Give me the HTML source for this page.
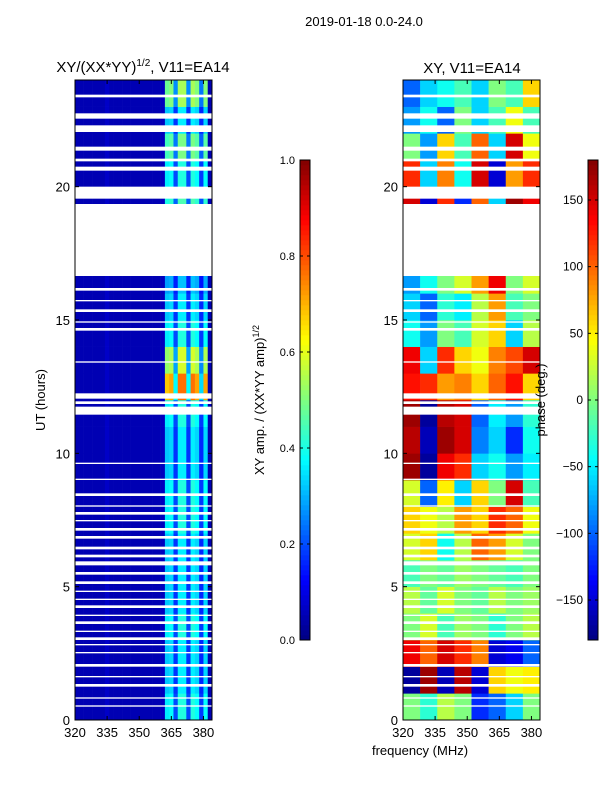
<!DOCTYPE html>
<html><head><meta charset="utf-8"><style>
body{margin:0;background:#fff;font-family:"Liberation Sans",sans-serif}
svg text{font-family:"Liberation Sans",sans-serif;fill:#000}
</style></head><body>
<svg id="chart" width="600" height="800" xmlns="http://www.w3.org/2000/svg">
<text x="364" y="26" font-size="13" text-anchor="middle">2019-01-18 0.0-24.0</text>
<text x="143" y="72" font-size="15" text-anchor="middle">XY/(XX*YY)<tspan font-size="10" dy="-6">1/2</tspan><tspan dy="6">, V11=EA14</tspan></text>
<text x="472" y="73" font-size="15" text-anchor="middle">XY, V11=EA14</text>
<g id="left"></g>
<g id="right"></g>
<g id="cbars"></g>
<text x="420" y="755" font-size="13" text-anchor="middle">frequency (MHz)</text>
<text transform="translate(45,400) rotate(-90)" font-size="13" text-anchor="middle">UT (hours)</text>
<text transform="translate(264,400) rotate(-90)" font-size="13" text-anchor="middle">XY amp. / (XX*YY amp)<tspan font-size="9" dy="-5">1/2</tspan></text>
<text transform="translate(545,400) rotate(-90)" font-size="13" text-anchor="middle">phase (deg.)</text>
</svg>
<script>
const freqTicks=[320,335,350,365,380];
const utTicks=[0,5,10,15,20];
const ampTicks=[0.0,0.2,0.4,0.6,0.8,1.0];
const phaseTicks=[-150,-100,-50,0,50,100,150];
const chanFreqs=[320,322,324,326,328,330,332,334,336,338,340,342,344,346,348,350,352,354,356,358,360,362,364,366,368,370,372,374,376,378,380,382];
const chanAmp=[0.05,0.05,0.05,0.05,0.05,0.05,0.05,0.07,0.05,0.05,0.05,0.05,0.05,0.05,0.05,0.05,0.05,0.05,0.05,0.05,0.06,0.4,0.42,0.22,0.45,0.45,0.22,0.45,0.42,0.2,0.42,0.05];
const hourAmpScale=[0.9,0.8,0.8,0.9,0.8,0.8,0.8,0.9,0.9,0.8,0.8,0.9,1.7,1.3,0.9,0.8,0.7,0,0,1,0.9,1.1,0.8,1.2];
const phaseCols=[320,328,336,344,352,360,368,376];
const phaseGrid=[
[0,-30,20,0,-120,-100,-60,0],
[-170,170,-160,160,-150,60,40,50],
[140,100,150,120,90,-150,-140,-100],
[0,30,-20,10,0,-30,0,20],
[20,-10,30,0,-10,20,0,10],
[-20,0,-10,10,0,-10,-20,0],
[30,60,-40,20,100,80,30,0],
[60,40,20,80,60,120,100,40],
[30,-100,50,-60,60,0,150,-20],
[170,-170,140,120,-60,-40,-80,-50],
[160,-160,170,150,-90,-60,-120,-40],
[170,-170,160,150,-100,-50,-80,-30],
[130,120,80,90,60,100,130,60],
[140,-60,120,60,40,90,110,150],
[-40,-80,0,-20,30,60,-60,20],
[-60,-100,-30,-50,20,80,-20,0],
[-80,-40,0,30,80,140,0,30],
[0,0,0,0,0,0,0,0],
[0,0,0,0,0,0,0,0],
[150,-150,120,-120,100,-60,170,140],
[120,-60,90,-40,150,-150,80,120],
[0,-80,60,-20,100,-60,150,40],
[-80,-40,-100,0,-60,-20,40,-20],
[-100,-60,-40,-20,-60,0,-20,60]];
const gapStart=[23.35,22.55,22.05,21.35,20.95,20.6,19.55,16.65,16.1,15.7,15.3,14.9,14.6,13.4,12.05,11.85,11.45,9.6,9.0,8.4,8.0,7.7,7.45,7.1,6.8,6.4,6.1,5.8,5.45,5.1,4.8,4.5,4.2,3.9,3.6,3.3,3.0,2.8,2.5,2.0,1.6,1.25,0.8,0.5];
const gapEnd=[23.45,22.75,22.3,21.5,21.05,20.75,20.0,19.35,16.2,15.75,15.4,14.95,14.7,13.45,12.25,11.95,11.75,9.65,9.05,8.5,8.05,7.8,7.5,7.2,6.9,6.5,6.2,5.95,5.55,5.2,4.85,4.55,4.3,3.95,3.7,3.35,3.1,2.85,2.55,2.1,1.65,1.35,0.85,0.55];

const NS='http://www.w3.org/2000/svg';
function jet(t){t=Math.max(0,Math.min(1,t));const c=v=>Math.round(255*Math.max(0,Math.min(1,v)));
return `rgb(${c(1.5-Math.abs(4*t-3))},${c(1.5-Math.abs(4*t-2))},${c(1.5-Math.abs(4*t-1))})`;}
function mk(tag,attrs,parent){const e=document.createElementNS(NS,tag);for(const k in attrs)e.setAttribute(k,attrs[k]);parent.appendChild(e);return e;}
const yS=h=>720-h*(640/24);
function panel(gid,x0){
  const g=document.getElementById(gid);
  const xS=f=>x0+(f-320)*(137/64);
  return {g,xS};
}
(function(){
  const {g,xS}=panel('left',75);
  for(let h=0;h<24;h++){for(let i=0;i<chanFreqs.length;i++){
    const v=chanAmp[i]<0.1?chanAmp[i]:chanAmp[i]*hourAmpScale[h];
    const r=mk('rect',{x:xS(chanFreqs[i]),y:yS(h+1),width:xS(chanFreqs[i]+2)-xS(chanFreqs[i])+0.3,height:yS(h)-yS(h+1)+0.3,fill:jet(v)},g);
    
    
  }}
  drawFrame(g,xS,75);
})();
(function(){
  const {g,xS}=panel('right',403);
  for(let h=0;h<24;h++){for(let i=0;i<phaseCols.length;i++){
    const r=mk('rect',{x:xS(phaseCols[i]),y:yS(h+1),width:xS(phaseCols[i]+8)-xS(phaseCols[i])+0.3,height:yS(h)-yS(h+1)+0.3,fill:jet((phaseGrid[h][i]+180)/360)},g);
    
    
  }}
  drawFrame(g,xS,403);
})();
function drawFrame(g,xS,x0){
  for(let k=0;k<gapStart.length;k++){
    const r=mk('rect',{x:x0,y:yS(gapEnd[k]),width:137,height:yS(gapStart[k])-yS(gapEnd[k]),fill:'#fff'},g);
    
    
  }
  mk('rect',{x:x0,y:80,width:137,height:640,fill:'none',stroke:'#000','stroke-width':1},g);
  freqTicks.forEach(f=>{const x=xS(f);
    mk('line',{x1:x,x2:x,y1:720,y2:716,stroke:'#000'},g);mk('line',{x1:x,x2:x,y1:80,y2:84,stroke:'#000'},g);
    const t=mk('text',{x:x,y:737,'font-size':13,'text-anchor':'middle'},g);t.textContent=f;
    
    });
  utTicks.forEach(h=>{const y=yS(h);
    mk('line',{x1:x0,x2:x0+4,y1:y,y2:y,stroke:'#000'},g);mk('line',{x1:x0+137,x2:x0+133,y1:y,y2:y,stroke:'#000'},g);
    const t=mk('text',{x:x0-5,y:y+5,'font-size':13,'text-anchor':'end'},g);t.textContent=h;
    
    });
}
(function(){
  const g=document.getElementById('cbars');
  function bar(x,lo,hi,ticks,name){
    const bg=mk('g',{},g);
    
    
    for(let i=0;i<96;i++){mk('rect',{x:x,y:640-(i+1)*5,width:10,height:5.3,fill:jet((i+0.5)/96)},bg);}
    mk('rect',{x:x,y:160,width:10,height:480,fill:'none',stroke:'#000'},bg);
    ticks.forEach(v=>{const y=640-(v-lo)/(hi-lo)*480;
      mk('line',{x1:x,x2:x+3,y1:y,y2:y,stroke:'#000'},bg);mk('line',{x1:x+10,x2:x+7,y1:y,y2:y,stroke:'#000'},bg);
      const t=mk('text',{x:x-5,y:y+4,'font-size':name==='amp-colorbar'?11:12,'text-anchor':'end'},bg);
      t.textContent=(name==='amp-colorbar'?v.toFixed(1):(v<0?'\u2212'+(-v):v));
      
      });
  }
  bar(300,0,1,ampTicks,'amp-colorbar');
  bar(588,-180,180,phaseTicks,'phase-colorbar');
})();
</script>
</body></html>
